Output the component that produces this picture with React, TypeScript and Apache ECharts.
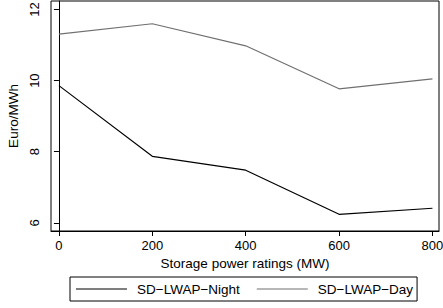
import React, { useEffect, useRef } from "react";
import * as echarts from "echarts";

const ratings = [0, 200, 400, 600, 800];
const nightValues = [9.86, 7.87, 7.48, 6.24, 6.41];
const dayValues = [11.31, 11.6, 10.98, 9.77, 10.05];
const xTicks = [0, 200, 400, 600, 800];
const yTicks = [6, 8, 10, 12];

const FONT = "Liberation Sans, Arial, Helvetica, sans-serif";

export default function App() {
  const ref = useRef<HTMLDivElement>(null);
  useEffect(() => {
    if (!ref.current) return;
    const chart = echarts.init(ref.current, null, { renderer: "svg" });
    chart.setOption({
      animation: false,
      backgroundColor: "#fff",
      textStyle: { fontFamily: FONT },
      grid: {
        left: 51,
        top: 1,
        width: 388,
        height: 230,
        show: true,
        borderColor: "#000",
        borderWidth: 1,
        backgroundColor: "#fff",
        containLabel: false,
        outerBoundsMode: "none",
      },
      xAxis: {
        type: "value",
        min: -17,
        max: 814,
        name: "Storage power ratings (MW)",
        nameLocation: "middle",
        nameGap: 20,
        nameTextStyle: { fontSize: 13.5, color: "#000", fontFamily: FONT },
        axisLine: { show: true, lineStyle: { color: "#000", width: 1 } },
        axisTick: { show: true, length: 5, lineStyle: { color: "#000" }, customValues: xTicks },
        axisLabel: { color: "#000", fontSize: 13, margin: 8, customValues: xTicks, fontFamily: FONT },
        splitLine: { show: false },
      },
      yAxis: {
        type: "value",
        min: 5.77,
        max: 12.24,
        name: "Euro/MWh",
        nameLocation: "middle",
        nameRotate: 90,
        nameGap: 29,
        nameTextStyle: { fontSize: 13.5, color: "#000", fontFamily: FONT },
        axisLine: { show: true, lineStyle: { color: "#000", width: 1 } },
        axisTick: { show: true, length: 5, lineStyle: { color: "#000" }, customValues: yTicks },
        axisLabel: { color: "#000", fontSize: 13, margin: 10, rotate: 90, customValues: yTicks, fontFamily: FONT },
        splitLine: { show: false },
      },
      legend: {
        left: 70,
        top: 277,
        orient: "horizontal",
        itemWidth: 51,
        itemHeight: 1,
        itemGap: 17,
        padding: [5, 4, 5, 6],
        borderColor: "#000",
        borderWidth: 1,
        borderRadius: 0,
        icon: "rect",
        textStyle: { fontSize: 13.5, color: "#000", fontFamily: FONT, padding: [0, 0, 0, 5] },
        data: ["SD\u2212LWAP\u2212Night", "SD\u2212LWAP\u2212Day"],
      },
      series: [
        {
          name: "SD\u2212LWAP\u2212Night",
          type: "line",
          data: ratings.map((r, i) => [r, nightValues[i]]),
          showSymbol: false,
          symbol: "none",
          lineStyle: { color: "#000", width: 1.2 },
          itemStyle: { color: "#000" },
        },
        {
          name: "SD\u2212LWAP\u2212Day",
          type: "line",
          data: ratings.map((r, i) => [r, dayValues[i]]),
          showSymbol: false,
          symbol: "none",
          lineStyle: { color: "#707070", width: 1.2 },
          itemStyle: { color: "#707070" },
        },
      ],
    });
    return () => chart.dispose();
  }, []);
  return <div ref={ref} style={{ width: 443, height: 308, position: "absolute", left: 0, top: 0 }} />;
}
